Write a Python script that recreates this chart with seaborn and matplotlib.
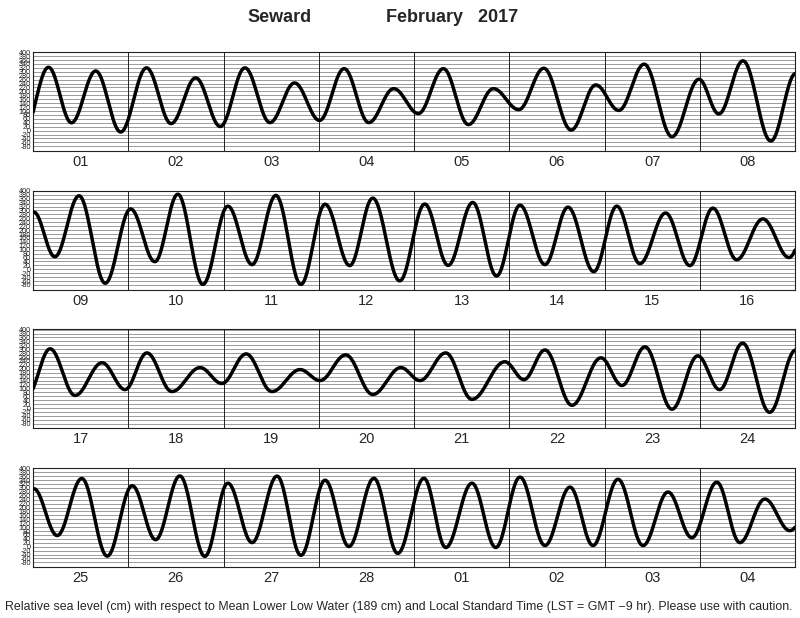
import numpy as np
import pandas as pd
import matplotlib
matplotlib.use("Agg")
import matplotlib.pyplot as plt
import seaborn as sns

# ---- data: tide extrema (hours since Feb 1 00:00 LST, height cm) ----
ext_hours = [
    -2.6, 3.9, 9.7, 15.8, 22.1, 28.6, 34.8, 41.0, 47.2, 53.4, 59.7, 65.9, 72.2,
    78.4, 84.6, 90.9, 97.1, 103.4, 109.7, 116.0, 122.4, 128.7, 135.6, 141.8,
    147.6, 154.0, 161.0, 167.8, 172.8, 178.9, 185.9, 192.2,
    197.5, 203.6, 210.2, 216.6, 222.7, 228.5, 234.8, 241.1, 247.2, 253.2,
    259.5, 265.6, 271.8, 277.6, 284.4, 290.7, 296.6, 302.8, 308.8, 314.7,
    321.0, 326.8, 333.3, 339.1, 344.9, 351.4, 357.5, 363.3, 369.3, 375.9, 382.5,
    388.3, 394.6, 401.4, 407.2, 412.7, 419.0, 426.1, 431.6, 437.7, 444.2,
    451.3, 456.3, 462.8, 469.6, 476.7, 481.5, 488.0, 494.6, 502.9, 507.7,
    513.0, 519.8, 527.1, 532.4, 538.2, 545.0, 551.5, 557.0, 562.8, 569.6, 576.2,
    582.1, 588.3, 594.7, 601.0, 606.9, 613.0, 619.3, 625.1, 631.2, 637.5,
    643.5, 649.6, 655.6, 661.9, 667.9, 674.5, 680.0, 686.6, 692.6, 698.7,
    705.0, 711.3, 717.1, 723.4, 729.7, 736.0, 742.0, 748.3, 754.1, 760.4,
    766.7, 773.0,
]
ext_heights = [
    -29, 323, 40, 304, -7, 320, 36, 269, 21, 320, 41, 243, 52,
    316, 41, 214, 87, 316, 31, 214, 107, 318, 3, 233,
    103, 339, -31, 262, 85, 356, -53, 292,
    64, 375, -71, 308, 39, 383, -77, 322, 24, 377,
    -77, 332, 19, 363, -59, 333, 20, 341, -34, 327,
    24, 317, -12, 322, 29, 287, 19, 312, 49, 257, 60,
    302, 64, 231, 94, 281, 84, 206, 125, 276, 84,
    196, 140, 271, 69, 206, 140, 281, 44, 236, 145,
    296, 14, 256, 115, 312, -6, 266, 94, 331, -22, 296,
    57, 348, -48, 311, 36, 361, -49, 324, 21, 360,
    -44, 339, 1, 349, -34, 349, -4, 324, -4, 355,
    6, 304, 6, 344, 6, 279, 46, 329, 21, 243,
    82, 250,
]

panel_days = [
    ["01", "02", "03", "04", "05", "06", "07", "08"],
    ["09", "10", "11", "12", "13", "14", "15", "16"],
    ["17", "18", "19", "20", "21", "22", "23", "24"],
    ["25", "26", "27", "28", "01", "02", "03", "04"],
]
y_ticks = list(range(-80, 401, 20))

title_station = "Seward"
title_month = "February   2017"
footer = ("Relative sea level (cm) with respect to Mean Lower Low Water (189 cm) "
          "and Local Standard Time (LST = GMT \u22129 hr). Please use with caution.")

# ---- curve between extrema (cosine shape, standard tide drawing) ----
def tide_curve(t):
    te = np.asarray(ext_hours, float)
    he = np.asarray(ext_heights, float)
    i = np.clip(np.searchsorted(te, t) - 1, 0, len(te) - 2)
    s = (t - te[i]) / (te[i + 1] - te[i])
    return he[i] + (he[i + 1] - he[i]) * (1 - np.cos(np.pi * s)) / 2

t_all = np.arange(0, 768.01, 0.1)
df = pd.DataFrame({"hour": t_all, "level": tide_curve(t_all)})

sns.set_style("white")
plt.rcParams["font.family"] = ["Liberation Sans", "DejaVu Sans"]

fig = plt.figure(figsize=(8.0, 6.18), dpi=100)
W, H = 800, 618
left, right = 33, 795
for k in range(4):
    top = 52 + k * 138.7
    bot = top + 99
    ax = fig.add_axes([left / W, 1 - bot / H, (right - left) / W, 99 / H])
    sub = df[(df["hour"] >= 192 * k) & (df["hour"] <= 192 * (k + 1))].copy()
    sub["x"] = sub["hour"] - 192 * k
    for y in y_ticks:
        ax.axhline(y, color="#8c8c8c", lw=0.6, zorder=1)
    for d in range(1, 8):
        ax.axvline(24 * d, color="#222222", lw=0.7, zorder=1)
    sns.lineplot(data=sub, x="x", y="level", ax=ax, color="black", lw=2.5,
                 zorder=3, estimator=None, sort=False)
    ax.set_xlim(0, 192)
    ax.set_ylim(-104, 401)
    ax.set_yticks(y_ticks)
    ax.set_yticklabels([str(v) for v in y_ticks], fontsize=5.2)
    ax.tick_params(axis="y", length=0, pad=1.5)
    ax.set_xticks(np.arange(0, 193, 2))
    ax.set_xticklabels([])
    ax.tick_params(axis="x", direction="in", length=3, width=0.6, color="#444444")
    for j, lab in enumerate(panel_days[k]):
        ax.text(24 * j + 12, -0.04, lab, transform=ax.get_xaxis_transform(),
                ha="center", va="top", fontsize=10.5)
    ax.set_xlabel("")
    ax.set_ylabel("")
    for sp in ax.spines.values():
        sp.set_color("#222222")
        sp.set_linewidth(0.8)

fig.text(280 / W, 1 - 18 / H, title_station, ha="center", va="center",
         fontsize=13, fontweight="bold")
fig.text(452 / W, 1 - 18 / H, title_month, ha="center", va="center",
         fontsize=13, fontweight="bold")
fig.text(399 / W, 1 - 607 / H, footer, ha="center", va="center", fontsize=8.9)

fig.savefig("out.png", dpi=100)
